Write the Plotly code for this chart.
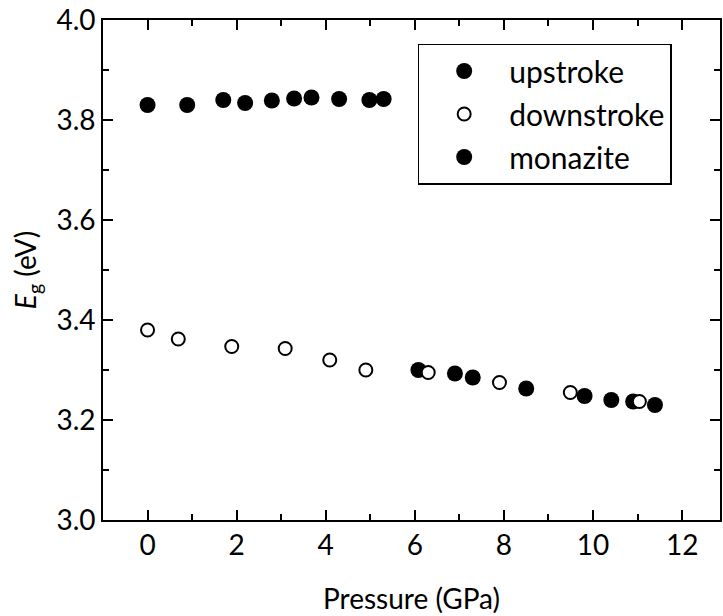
import plotly.graph_objects as go

# upstroke (low-pressure phase)
up_p = [0.0, 0.89, 1.70, 2.19, 2.79, 3.29, 3.68, 4.30, 4.98, 5.30]
up_e = [3.830, 3.830, 3.840, 3.834, 3.839, 3.843, 3.845, 3.842, 3.840, 3.842]

# downstroke
down_p = [0.0, 0.69, 1.89, 3.09, 4.09, 4.90, 6.30, 7.90, 9.49, 11.04]
down_e = [3.380, 3.362, 3.347, 3.343, 3.320, 3.300, 3.295, 3.275, 3.255, 3.237]

# monazite (upstroke, high pressure)
mon_p = [6.08, 6.90, 7.30, 8.50, 9.81, 10.41, 10.90, 11.39]
mon_e = [3.300, 3.293, 3.285, 3.263, 3.248, 3.240, 3.237, 3.230]

FONT = "Lato"

fig = go.Figure()
fig.add_trace(go.Scatter(x=up_p, y=up_e, mode="markers", name="upstroke",
                         legendgroup="a",
                         marker=dict(symbol="circle", size=16, color="black",
                                     line=dict(width=0))))
fig.add_trace(go.Scatter(x=mon_p, y=mon_e, mode="markers", name="monazite",
                         legendgroup="c", showlegend=False,
                         marker=dict(symbol="circle", size=16, color="black",
                                     line=dict(width=0))))
fig.add_trace(go.Scatter(x=down_p, y=down_e, mode="markers", name="downstroke",
                         legendgroup="b",
                         marker=dict(symbol="circle", size=13, color="white",
                                     line=dict(width=2, color="black"))))
fig.add_trace(go.Scatter(x=[None], y=[None], mode="markers", name="monazite",
                         legendgroup="c",
                         marker=dict(symbol="circle", size=16, color="black",
                                     line=dict(width=0))))

axis_common = dict(
    showline=True, linecolor="black", linewidth=1.7, mirror="allticks",
    ticks="inside", ticklen=10, tickwidth=1.7, tickcolor="black",
    showgrid=False, zeroline=False,
    tickfont=dict(family=FONT, size=28, color="black"),
)

fig.update_layout(
    width=723, height=616,
    margin=dict(l=103, r=1, t=20, b=96),
    paper_bgcolor="white", plot_bgcolor="white",
    font=dict(family=FONT, color="black"),
    xaxis=dict(range=[-1, 12.85], tickmode="array",
               tickvals=[0, 2, 4, 6, 8, 10, 12],
               minor=dict(tickvals=[1, 3, 5, 7, 9, 11], ticks="inside",
                          ticklen=6, tickwidth=1.7, tickcolor="black"),
               title=dict(text="Pressure (GPa)", standoff=29,
                          font=dict(family=FONT, size=28, color="black")),
               **axis_common),
    yaxis=dict(range=[3.0, 4.0], tickmode="array",
               tickvals=[3.0, 3.2, 3.4, 3.6, 3.8, 4.0],
               ticktext=["3.0", "3.2", "3.4", "3.6", "3.8", "4.0"],
               minor=dict(tickvals=[3.1, 3.3, 3.5, 3.7, 3.9], ticks="inside",
                          ticklen=6, tickwidth=1.7, tickcolor="black"),
               title=dict(text="<i>E</i><sub>g</sub> (eV)", standoff=12,
                          font=dict(family=FONT, size=28, color="black")),
               **axis_common),
    legend=dict(x=0.51, y=0.953, xanchor="left", yanchor="top",
                bordercolor="black", borderwidth=1.5, bgcolor="white",
                font=dict(family=FONT, size=30, color="black"),
                traceorder="grouped", tracegroupgap=1,
                itemwidth=80),
    showlegend=True,
)

fig.write_html("out.html")
